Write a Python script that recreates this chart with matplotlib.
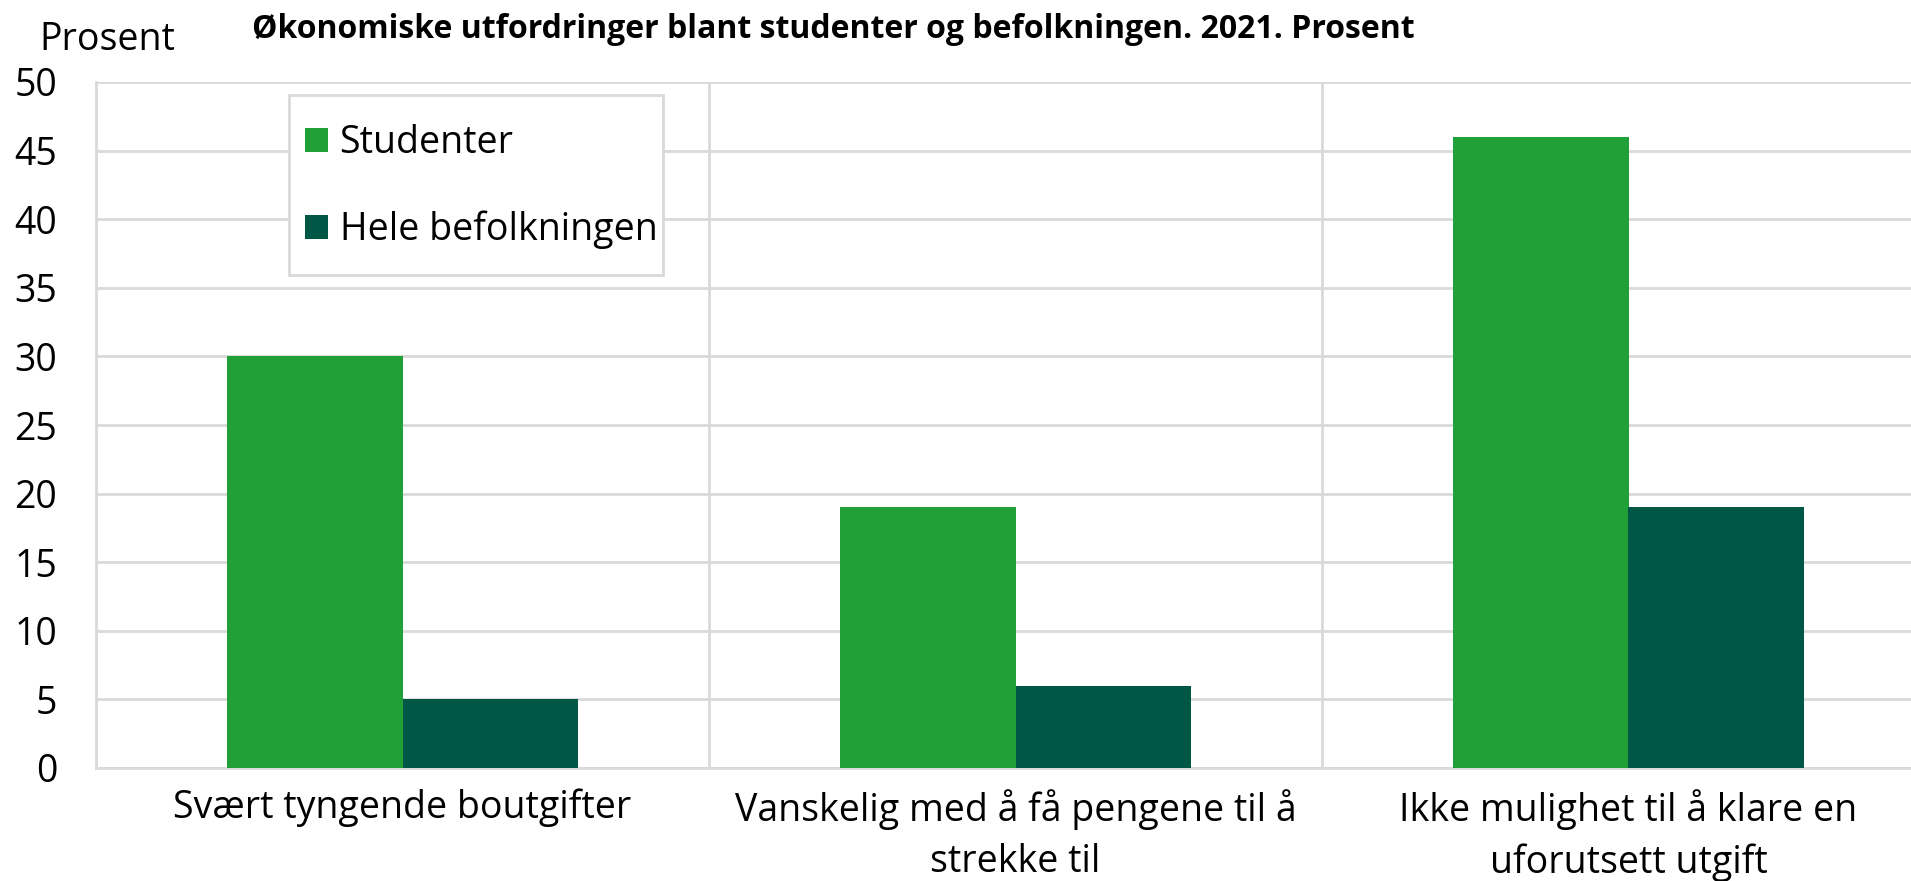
import numpy as np
import matplotlib
matplotlib.use("Agg")
import matplotlib.pyplot as plt
from matplotlib.patches import Patch, Rectangle

plt.rcParams['font.family'] = ['Open Sans', 'DejaVu Sans']

categories = [
    "Svært tyngende boutgifter",
    "Vanskelig med å få pengene til å\nstrekke til",
    "Ikke mulighet til å klare en\nuforutsett utgift",
]
series_names = ["Studenter", "Hele befolkningen"]
studenter = [30, 19, 46]
befolkningen = [5, 6, 19]
y_ticks = [0, 5, 10, 15, 20, 25, 30, 35, 40, 45, 50]

GREEN = "#21a038"
DARK = "#005746"
GRID = "#d9d9d9"
FS = 27

W, H = 1911, 881
fig = plt.figure(figsize=(W / 100, H / 100), dpi=100)
# plot area runs slightly past the right edge, as in the original
ax = fig.add_axes([96 / W, 1 - 768 / H, (1935 - 96) / W, (768 - 82) / H])

x = np.arange(len(categories))
bw = 0.286
ax.bar(x - bw / 2, studenter, bw, color=GREEN, label=series_names[0], zorder=3)
ax.bar(x + bw / 2, befolkningen, bw, color=DARK, label=series_names[1], zorder=3)

ax.set_xlim(-0.5, len(categories) - 0.5)
ax.set_ylim(0, 50)
ax.set_yticks(y_ticks)
ax.set_yticklabels([str(v) for v in y_ticks])
ax.set_xticks(x)
ax.set_xticklabels(categories)
ax.tick_params(axis="y", length=0, pad=28, labelsize=FS)
ax.tick_params(axis="x", length=0, pad=15, labelsize=FS)
for lab in ax.get_xticklabels():
    lab.set_linespacing(1.45)

ax.grid(axis="y", color=GRID, linewidth=2, zorder=0)
for b in np.arange(0.5, len(categories), 1.0):
    ax.axvline(b, color=GRID, linewidth=2, zorder=0)

for side in ["top", "right"]:
    ax.spines[side].set_visible(False)
for side in ["left", "bottom"]:
    ax.spines[side].set_color(GRID)
    ax.spines[side].set_linewidth(2)

# legend box drawn separately so its padding matches the original
fig.patches.append(Rectangle((289 / W, 1 - 275 / H), (663 - 289) / W, (275 - 95) / H,
                             transform=fig.transFigure, facecolor="white",
                             edgecolor=GRID, linewidth=2, zorder=5))
handles = [Patch(facecolor=GREEN), Patch(facecolor=DARK)]
leg = fig.legend(handles, series_names, loc="upper left",
                 bbox_to_anchor=(305 / W, 1 - 124 / H), fontsize=FS,
                 handlelength=0.6, handleheight=0.6, handletextpad=0.32,
                 labelspacing=1.3, borderpad=0, borderaxespad=0,
                 frameon=False)
leg.set_zorder(6)

fig.text(39 / W, 1 - 40 / H, "Prosent", fontsize=FS, ha="left", va="center")
fig.text(252 / W, 1 - 29 / H,
         "Økonomiske utfordringer blant studenter og befolkningen. 2021. Prosent",
         fontsize=23, fontweight="bold", ha="left", va="center")

fig.savefig("out.png", dpi=100)
